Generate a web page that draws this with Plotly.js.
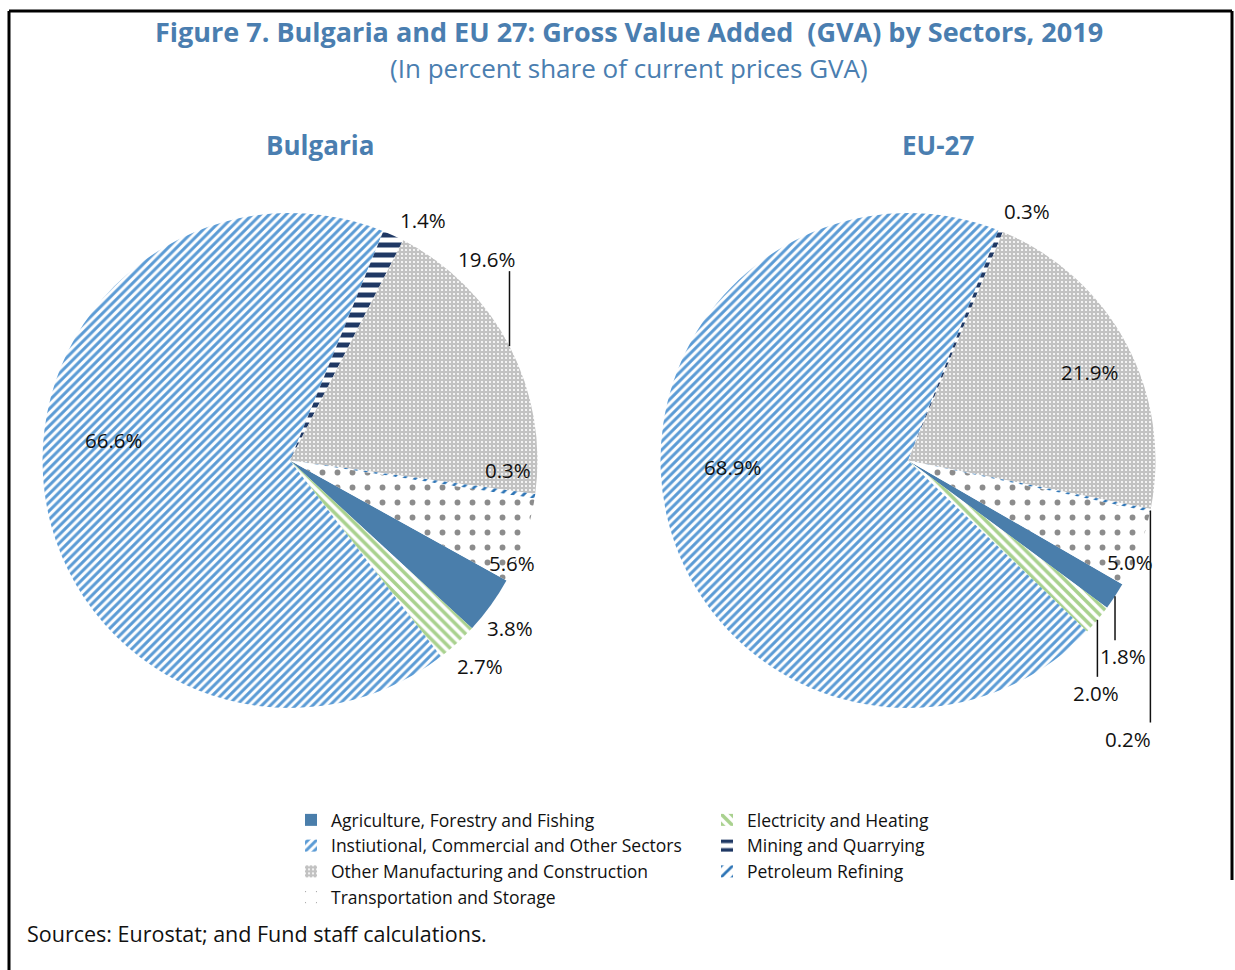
<!DOCTYPE html>
<html><head><meta charset="utf-8">
<script src="https://cdn.plot.ly/plotly-3.0.1.min.js"></script>
<style>html,body{margin:0;padding:0;background:#fff}</style>
</head><body><div id="chart" style="width:1235px;height:970px"></div>
<script>
// ---------------- data ----------------
const sectors = [
  'Agriculture, Forestry and Fishing',
  'Electricity and Heating',
  'Instiutional, Commercial and Other Sectors',
  'Mining and Quarrying',
  'Other Manufacturing and Construction',
  'Petroleum Refining',
  'Transportation and Storage'
];
const bulgariaShare = [3.8, 2.7, 66.6, 1.4, 19.6, 0.3, 5.6];
const eu27Share     = [1.8, 2.0, 68.9, 0.3, 21.9, 0.2, 5.0];
const pieNames = ['Bulgaria', 'EU-27'];
const chartTitle = 'Figure 7. Bulgaria and EU 27: Gross Value Added  (GVA) by Sectors, 2019';
const chartSubtitle = '(In percent share of current prices GVA)';
const sourceNote = 'Sources: Eurostat; and Fund staff calculations.';

// ---------------- style ----------------
const W = 1235, H = 970;
const FONT = 'Open Sans, Noto Sans, sans-serif';
const BLUE_TITLE = '#4A7EB0';
const sliceColors   = ['#4A7EAB', '#A9D18E', '#5B9BD5', '#1F3864', '#C4C4C4', '#2E75B6', '#8C8C8C'];
const patShape      = ['', '\\', '/', '-', '.', '/', '.'];
const patFg         = ['#4A7EAB', '#A9D18E', '#5B9BD5', '#1F3864', '#FFFFFF', '#2E75B6', '#8C8C8C'];
const patBg         = ['#4A7EAB', '#FFFFFF', '#FFFFFF', '#FFFFFF', '#C2C2C2', '#FFFFFF', '#FFFFFF'];
const patSize       = [8, 7, 6, 10, 4, 8, 15];
const patSolid      = [0.3, 0.5, 0.5, 0.5, 0.22, 0.35, 0.12];

const pieGeom = [
  {cx: 290, cy: 460.5, r: 247.5, rotation: 119,
   lab: [ {rf:1, dx:19, dy:23}, {rf:1, dx:23, dy:23}, {rf:0.71, dx:-1.5, dy:-44},
          {rf:1, dx:30, dy:-16}, {rf:1, dx:-22, dy:-87, leader:true}, {rf:1, dx:-27, dy:-26},
          {rf:1, dx:-12.5, dy:22} ]},
  {cx: 908, cy: 460.5, r: 247.5, rotation: 120,
   lab: [ {rf:1, dx:8, dy:60, leader:true}, {rf:1, dx:-1, dy:73, leader:true}, {rf:0.71, dx:-3.5, dy:-31.5},
          {rf:1, dx:26, dy:-20}, {rf:0.75, dx:18, dy:-1}, {rf:1, dx:-22, dy:228, leader:true},
          {rf:1, dx:-9, dy:13} ]}
];
const series = [bulgariaShare, eu27Share];

const px = x => x / W;
const py = y => 1 - y / H;

const traces = [];
const annotations = [];
const shapes = [];

series.forEach((vals, k) => {
  const g = pieGeom[k];
  traces.push({
    type: 'pie', name: pieNames[k], labels: sectors, values: vals,
    sort: false, direction: 'clockwise', rotation: g.rotation,
    domain: {x: [px(g.cx - g.r), px(g.cx + g.r)], y: [py(g.cy + g.r), py(g.cy - g.r)]},
    textinfo: 'none', hoverinfo: 'label+value',
    marker: {
      colors: sliceColors, line: {width: 0},
      pattern: {shape: patShape, fgcolor: patFg, bgcolor: patBg, size: patSize,
                solidity: patSolid, fillmode: 'replace'}
    }
  });
  const total = vals.reduce((a, b) => a + b, 0);
  let cum = 0;
  vals.forEach((v, i) => {
    const mid = (g.rotation + (cum + v / 2) / total * 360) * Math.PI / 180;
    cum += v;
    const s = g.lab[i];
    const ex = g.cx + g.r * s.rf * Math.sin(mid);
    const ey = g.cy - g.r * s.rf * Math.cos(mid);
    const tx = ex + s.dx, ty = ey + s.dy;
    annotations.push({
      xref: 'paper', yref: 'paper', x: px(tx), y: py(ty), xanchor: 'center', yanchor: 'middle',
      text: v.toFixed(1) + '%', showarrow: false,
      font: {family: FONT, size: 20.5, color: '#111111'}
    });
    if (s.leader) {
      const yEnd = s.dy > 0 ? ty - 16 : ty + 12;
      shapes.push({type: 'line', xref: 'paper', yref: 'paper',
        x0: px(ex), y0: py(ey), x1: px(ex), y1: py(yEnd),
        line: {color: '#111111', width: 1.5}});
    }
  });
  annotations.push({
    xref: 'paper', yref: 'paper', x: px(k === 0 ? 320 : 938), y: py(145),
    xanchor: 'center', yanchor: 'middle', text: '<b>' + pieNames[k] + '</b>', showarrow: false,
    font: {family: FONT, size: 26, color: BLUE_TITLE}
  });
});

annotations.push(
  {xref:'paper', yref:'paper', x: px(629), y: py(32), xanchor:'center', yanchor:'middle',
   text: '<b>' + chartTitle + '</b>', showarrow:false, font:{family: FONT, size: 27, color: BLUE_TITLE}},
  {xref:'paper', yref:'paper', x: px(629), y: py(68), xanchor:'center', yanchor:'middle',
   text: chartSubtitle, showarrow:false, font:{family: FONT, size: 26, color: BLUE_TITLE}},
  {xref:'paper', yref:'paper', x: px(25), y: py(933), xanchor:'left', yanchor:'middle',
   text: sourceNote, showarrow:false, font:{family: FONT, size: 21.5, color: '#111111'}}
);

// frame lines
shapes.push(
  {type:'line', xref:'paper', yref:'paper', x0: px(9), y0: py(11), x1: px(9), y1: 0, line:{color:'#000', width:3}},
  {type:'line', xref:'paper', yref:'paper', x0: px(9), y0: py(11), x1: px(1232), y1: py(11), line:{color:'#000', width:3}},
  {type:'line', xref:'paper', yref:'paper', x0: px(1232), y0: py(11), x1: px(1232), y1: py(880), line:{color:'#000', width:3}}
);

const layout = {
  width: W, height: H, margin: {l: 0, r: 0, t: 0, b: 0, autoexpand: false},
  paper_bgcolor: '#fff', plot_bgcolor: '#fff',
  showlegend: true,
  legend: {orientation: 'h', x: px(291), xanchor: 'left', y: py(802), yanchor: 'top',
           entrywidth: 371, entrywidthmode: 'pixels', traceorder: 'normal',
           font: {family: FONT, size: 17.5, color: '#111111'}, bgcolor: 'rgba(0,0,0,0)'},
  annotations: annotations, shapes: shapes
};

Plotly.newPlot('chart', traces, layout, {displayModeBar: false, staticPlot: true});
</script>
</body></html>
